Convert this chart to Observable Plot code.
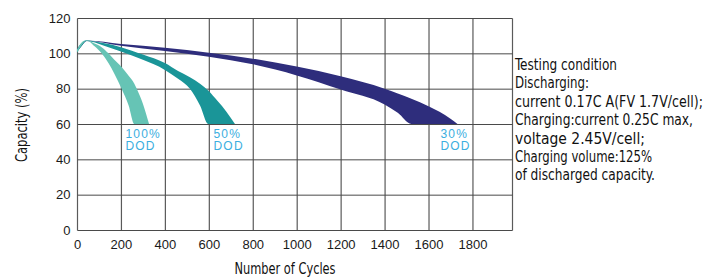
<!DOCTYPE html>
<html><head><meta charset="utf-8">
<script src="https://cdn.jsdelivr.net/npm/d3@7"></script>
<script src="https://cdn.jsdelivr.net/npm/@observablehq/plot@0.6"></script>
<style>
body{margin:0;background:#fff;}
#chart{width:706px;height:279px;}
</style></head><body><div id="chart"></div>
<script>
// ---- data ----
const xTicks = [0,200,400,600,800,1000,1200,1400,1600,1800];
const yTicks = [0,20,40,60,80,100,120];

// 100% DOD band
const cycles100 = [0,20,44,80,112,143,170,203,235,261,272,300,328];
const low100    = [100.5,104.5,107.3,104,100,94.5,88.5,80,70.5,60,60,60,60];
const high100   = [102,106,107.5,105.5,103.5,100,96.3,92.2,87.3,82.8,80,71.5,60];

// 50% DOD band
const cycles50 = [0,20,44,120,200,300,400,460,514,560,598,640,680,719];
const low50    = [100.5,104,107,104.5,101,96.3,90.6,85.6,80,70.5,60,60,60,60];
const high50   = [102,105.5,107.3,105.8,103.5,99.3,94.5,90,86.5,82.8,78.8,73,67,60];

// 30% DOD band
const cycles30 = [0,20,44,200,400,600,800,1000,1200,1400,1460,1522,1600,1700,1732];
const low30    = [101,104,107,104.3,101.3,98.1,93.8,87.5,79.5,71,66.3,60,60,60,60];
const high30   = [102.5,105.5,107.3,105.3,103.2,100.4,97,92.5,87,80,77.3,74.3,70,63,60];

const labelText = ["100%\nDOD","50%\nDOD","30%\nDOD"];
const labelX    = [218,619,1652];
const labelY    = [51,51,51];

const noteLines = [
  "Testing condition",
  "Discharging:",
  "current 0.17C A(FV 1.7V/cell);",
  "Charging:current 0.25C max,",
  "voltage 2.45V/cell;",
  "Charging volume:125%",
  "of discharged capacity."
];
const noteWidths = [102,74,188,178,130,137,140];

// ---- build tables ----
const band = (xs, lo, hi) => xs.map((x,i)=>({x, lo: lo[i], hi: hi[i]}));
const b100 = band(cycles100, low100, high100);
const b50  = band(cycles50, low50, high50);
const b30  = band(cycles30, low30, high30);
const labels = labelText.map((t,i)=>({t, x: labelX[i], y: labelY[i]}));
const xMax = 1980;

const chart = Plot.plot({
  width: 706, height: 279,
  marginLeft: 77, marginRight: 194, marginTop: 18, marginBottom: 49,
  style: {fontFamily: "'Liberation Sans', Arial, sans-serif", fontSize: "13px", color: "#1a1a1a", background: "#fff"},
  x: {domain: [0, xMax], ticks: xTicks, tickSize: 0, tickPadding: 9, label: null, tickFormat: d => String(d)},
  y: {domain: [0,120], ticks: yTicks, tickSize: 0, tickPadding: 7, label: null, tickFormat: d => String(d)},
  marks: [
    Plot.link(xTicks.concat([xMax]), {x1: d=>d, x2: d=>d, y1: 0, y2: 120, stroke: "#5a5a5a", strokeWidth: 1.2}),
    Plot.link(yTicks, {x1: 0, x2: xMax, y1: d=>d, y2: d=>d, stroke: "#4a4a4a", strokeWidth: 1}),
    Plot.areaY(b30, {x: "x", y1: "lo", y2: "hi", fill: "#2e2d7c", curve: "monotone-x"}),
    Plot.areaY(b50, {x: "x", y1: "lo", y2: "hi", fill: "#1a9598", curve: "monotone-x"}),
    Plot.areaY(b100, {x: "x", y1: "lo", y2: "hi", fill: "#66c4b5", curve: "monotone-x"}),
    Plot.text(labels, {x: "x", y: "y", text: "t", textAnchor: "start", fill: "#3aaee0",
      fontSize: 12, lineHeight: 1.0, fontFamily: "'Liberation Sans', Arial, sans-serif"})
  ]
});

document.getElementById("chart").appendChild(chart);

// condensed annotation texts
const svg = d3.select(chart);
svg.selectAll("g[aria-label='text'] text").attr("letter-spacing", "1.2px");
const cond = "'DejaVu Sans Condensed','Liberation Sans Narrow','Roboto Condensed','DejaVu Sans',sans-serif";
const notes = svg.append("g")
  .attr("font-family", cond).attr("font-size", 16).attr("fill", "#111").attr("text-anchor", "start");
noteLines.forEach((s,i)=>{
  notes.append("text").attr("x", 515).attr("y", 70 + i*18.4).attr("text-anchor", "start")
    .attr("textLength", noteWidths[i]).attr("lengthAdjust", "spacingAndGlyphs").text(s);
});
svg.append("text").attr("font-family", cond).attr("font-size", 16).attr("fill", "#111")
  .attr("x", 285).attr("y", 274).attr("text-anchor", "middle")
  .attr("textLength", 101).attr("lengthAdjust", "spacingAndGlyphs").text("Number of Cycles");
svg.append("text").attr("font-family", cond).attr("font-size", 16).attr("fill", "#111")
  .attr("transform", "translate(27,125) rotate(-90)").attr("text-anchor", "middle")
  .attr("textLength", 74).attr("lengthAdjust", "spacingAndGlyphs").text("Capacity (%)");
</script>
</body></html>
